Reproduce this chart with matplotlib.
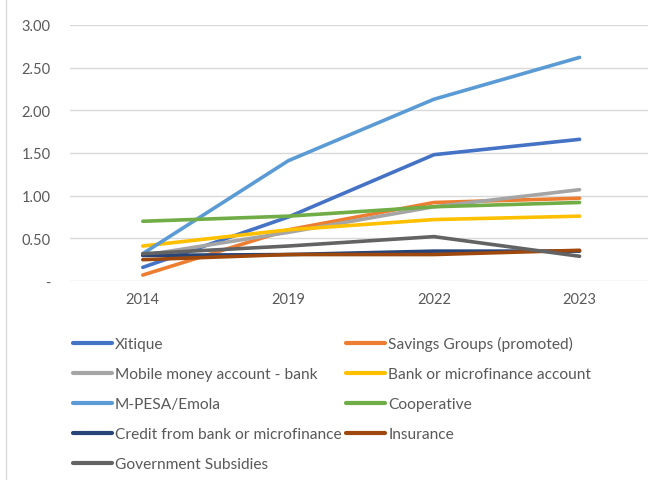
import matplotlib.pyplot as plt

years = ["2014", "2019", "2022", "2023"]
series_names = [
    "Xitique", "Savings Groups (promoted)", "Mobile money account - bank",
    "Bank or microfinance account", "M-PESA/Emola", "Cooperative",
    "Credit from bank or microfinance", "Insurance", "Government Subsidies",
]
xitique = [0.16, 0.75, 1.48, 1.66]
savings_groups = [0.07, 0.60, 0.92, 0.97]
mobile_money = [0.30, 0.57, 0.87, 1.07]
bank_account = [0.41, 0.60, 0.72, 0.76]
mpesa = [0.32, 1.41, 2.13, 2.62]
cooperative = [0.70, 0.76, 0.87, 0.92]
credit = [0.30, 0.31, 0.35, 0.35]
insurance = [0.25, 0.31, 0.31, 0.36]
subsidies = [0.32, 0.41, 0.52, 0.29]

colors = ["#4472C4", "#ED7D31", "#A5A5A5", "#FFC000", "#5B9BD5",
          "#70AD47", "#264478", "#9E480E", "#636363"]
values = [xitique, savings_groups, mobile_money, bank_account, mpesa,
          cooperative, credit, insurance, subsidies]

plt.rcParams['font.family'] = ['Lato', 'DejaVu Sans']
fig = plt.figure(figsize=(6.48, 4.81), dpi=100)
ax = fig.add_axes([0.108, 0.4137, 0.892, 0.5323])

x = list(range(len(years)))
lines = []
for name, vals, c in zip(series_names, values, colors):
    ln, = ax.plot(x, vals, color=c, lw=2.6, solid_capstyle='round', label=name)
    lines.append(ln)

ax.set_xlim(-0.5, 3.47)
ax.set_ylim(0, 3)
ax.set_yticks([0, 0.5, 1, 1.5, 2, 2.5, 3])
ax.set_yticklabels(["-", "0.50", "1.00", "1.50", "2.00", "2.50", "3.00"])
ax.set_xticks(x)
ax.set_xticklabels(years)
ax.tick_params(length=0, labelsize=10.5, colors="#595959", pad=8)
ax.tick_params(axis='y', pad=14)
ax.grid(axis='y', color="#d9d9d9", lw=1)
ax.set_axisbelow(True)
for s in ax.spines.values():
    s.set_visible(False)

# legend entries go row by row across two columns
order = [0, 2, 4, 6, 8, 1, 3, 5, 7]
leg = fig.legend([lines[i] for i in order], [series_names[i] for i in order],
                 ncol=2, loc='upper left', bbox_to_anchor=(0.103, 0.312),
                 frameon=False, handlelength=2.5, handletextpad=0.2,
                 columnspacing=0.3, labelspacing=1.03, labelcolor="#595959",
                 borderaxespad=0, prop={'size': 11.2})
for h in leg.get_lines():
    h.set_linewidth(3.0)

# thin frame line on the left edge
fig.add_artist(plt.Line2D([0.009, 0.009], [0, 1], color="#d9d9d9", lw=1,
                          transform=fig.transFigure))

fig.savefig("out.png", dpi=100)
